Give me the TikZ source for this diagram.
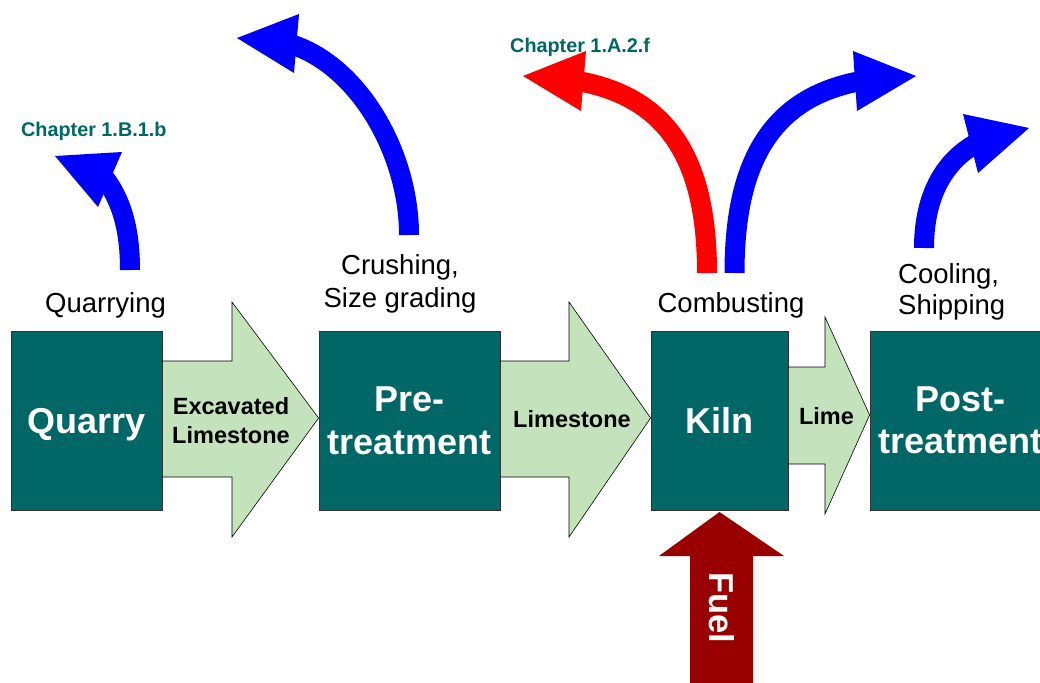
\documentclass[tikz,border=0pt]{standalone}
\usepackage{fontspec}
\setmainfont{Liberation Sans}
\usetikzlibrary{calc}
\definecolor{boxteal}{RGB}{0,102,102}
\definecolor{flowgreen}{RGB}{196,226,188}
\definecolor{fuelred}{RGB}{153,0,0}
\definecolor{arrblue}{RGB}{0,0,255}
\definecolor{arrred}{RGB}{255,0,0}
\begin{document}
\begin{tikzpicture}[x=1pt,y=-1pt,
  box/.style={draw=black!80, line width=0.8pt, fill=boxteal, text=white,
    font=\fontsize{36}{43}\selectfont\bfseries, align=center, inner sep=0pt,
    minimum height=179pt},
  flow/.style={draw=black, line width=0.6pt, fill=flowgreen},
  flowlabel/.style={font=\fontsize{23.5}{29}\selectfont\bfseries, align=center, inner sep=0pt},
  steplabel/.style={font=\fontsize{27.5}{33}\selectfont, inner sep=0pt},
  chap/.style={font=\fontsize{19.8}{22}\selectfont\bfseries, text=boxteal, inner sep=0pt, anchor=base west},
  band/.style={line width=20pt},
]
\useasboundingbox (0,0) rectangle (1040,682);
\clip (0,0) rectangle (1040,682);

% process boxes
\node[box, minimum width=151pt, text height=26pt, text depth=0pt] (q) at (86.5,420.5) {Quarry};
\node[box, minimum width=181pt] (p) at (409.5,420.5) {Pre-\\treatment};
\node[box, minimum width=137pt, text height=26pt, text depth=0pt] (k) at (719.5,420.5) {Kiln};
\node[box, minimum width=181pt, font=\fontsize{36}{42}\selectfont\bfseries] (t) at (960.5,420.5) {Post-\\treatment};

% block arrows between boxes
\draw[flow] (q.east |- 0,361) -- (232,361) -- (232,302) -- (p.west |- 0,418)
  -- (232,537) -- (232,477) -- (q.east |- 0,477) -- cycle;
\draw[flow] (p.east |- 0,361) -- (569,361) -- (569,302) -- (k.west |- 0,418)
  -- (569,537) -- (569,477) -- (p.east |- 0,477) -- cycle;
\draw[flow] (k.east |- 0,367) -- (825,367) -- (825,317) -- (t.west |- 0,415)
  -- (825,514) -- (825,464) -- (k.east |- 0,464) -- cycle;
\node[flowlabel] (el) at (231,420.3) {Excavated\\Limestone};
\node[flowlabel, anchor=base] (ll) at (572,427) {Limestone};
\node[flowlabel, anchor=base] (lm) at (826.5,424) {Lime};

% fuel arrow
\coordinate (fuelfoot) at (721.5,690);
\fill[fuelred] (fuelfoot -| 690,0) -- (690,556) -- (659,556) -- (k.south |- 0,512)
  -- (784,556) -- (753,556) -- (fuelfoot -| 753,0) -- cycle;
\node[font=\fontsize{34.5}{40}\selectfont\bfseries, text=white, rotate=-90, inner sep=0pt] (fu) at (722,608) {Fuel};

% step labels
\node[steplabel, anchor=base] (s1) at (105.5,312) {Quarrying};
\node[steplabel, align=center] (s2) at (400,283.5) {Crushing,\\Size grading};
\node[steplabel, anchor=base] (s3) at (731,312) {Combusting};
\node[steplabel, align=left, anchor=west, font=\fontsize{27.5}{31}\selectfont] (s4) at (898,291.5) {Cooling,\\Shipping};

% chapter labels
\node[chap] (c1) at (21,136) {Chapter 1.B.1.b};
\node[chap] (c2) at (510,53) {Chapter 1.A.2.f};

% curved emission arrows
\coordinate (a1) at (130,270);
\draw[band, arrblue] (a1) .. controls (130,230) and (122,200) .. (103,176);
\fill[arrblue] (55,156) -- (122,152) -- (98,207) -- cycle;

\coordinate (a2) at (409,235);
\draw[band, arrblue] (a2) .. controls (409,150) and (355,60) .. (284.5,42.4);
\fill[arrblue] (237,38) -- (299,14) -- (294,73) -- cycle;

\coordinate (a3) at (707,273);
\draw[band, arrred] (a3) .. controls (707,165) and (672,95) .. (571.5,80);
\fill[arrred] (523,76) -- (586,51) -- (581,111) -- cycle;

\coordinate (a4) at (734.5,273);
\draw[band, arrblue] (a4) .. controls (734.5,165) and (769,95) .. (867,80);
\fill[arrblue] (916,76) -- (853,51) -- (857,111) -- cycle;

\coordinate (a5) at (924,248);
\draw[band, arrblue] (a5) .. controls (924,195) and (945,158) .. (982,140.4);
\fill[arrblue] (963,114) -- (1029,128) -- (978,173) -- cycle;
\end{tikzpicture}
\end{document}
